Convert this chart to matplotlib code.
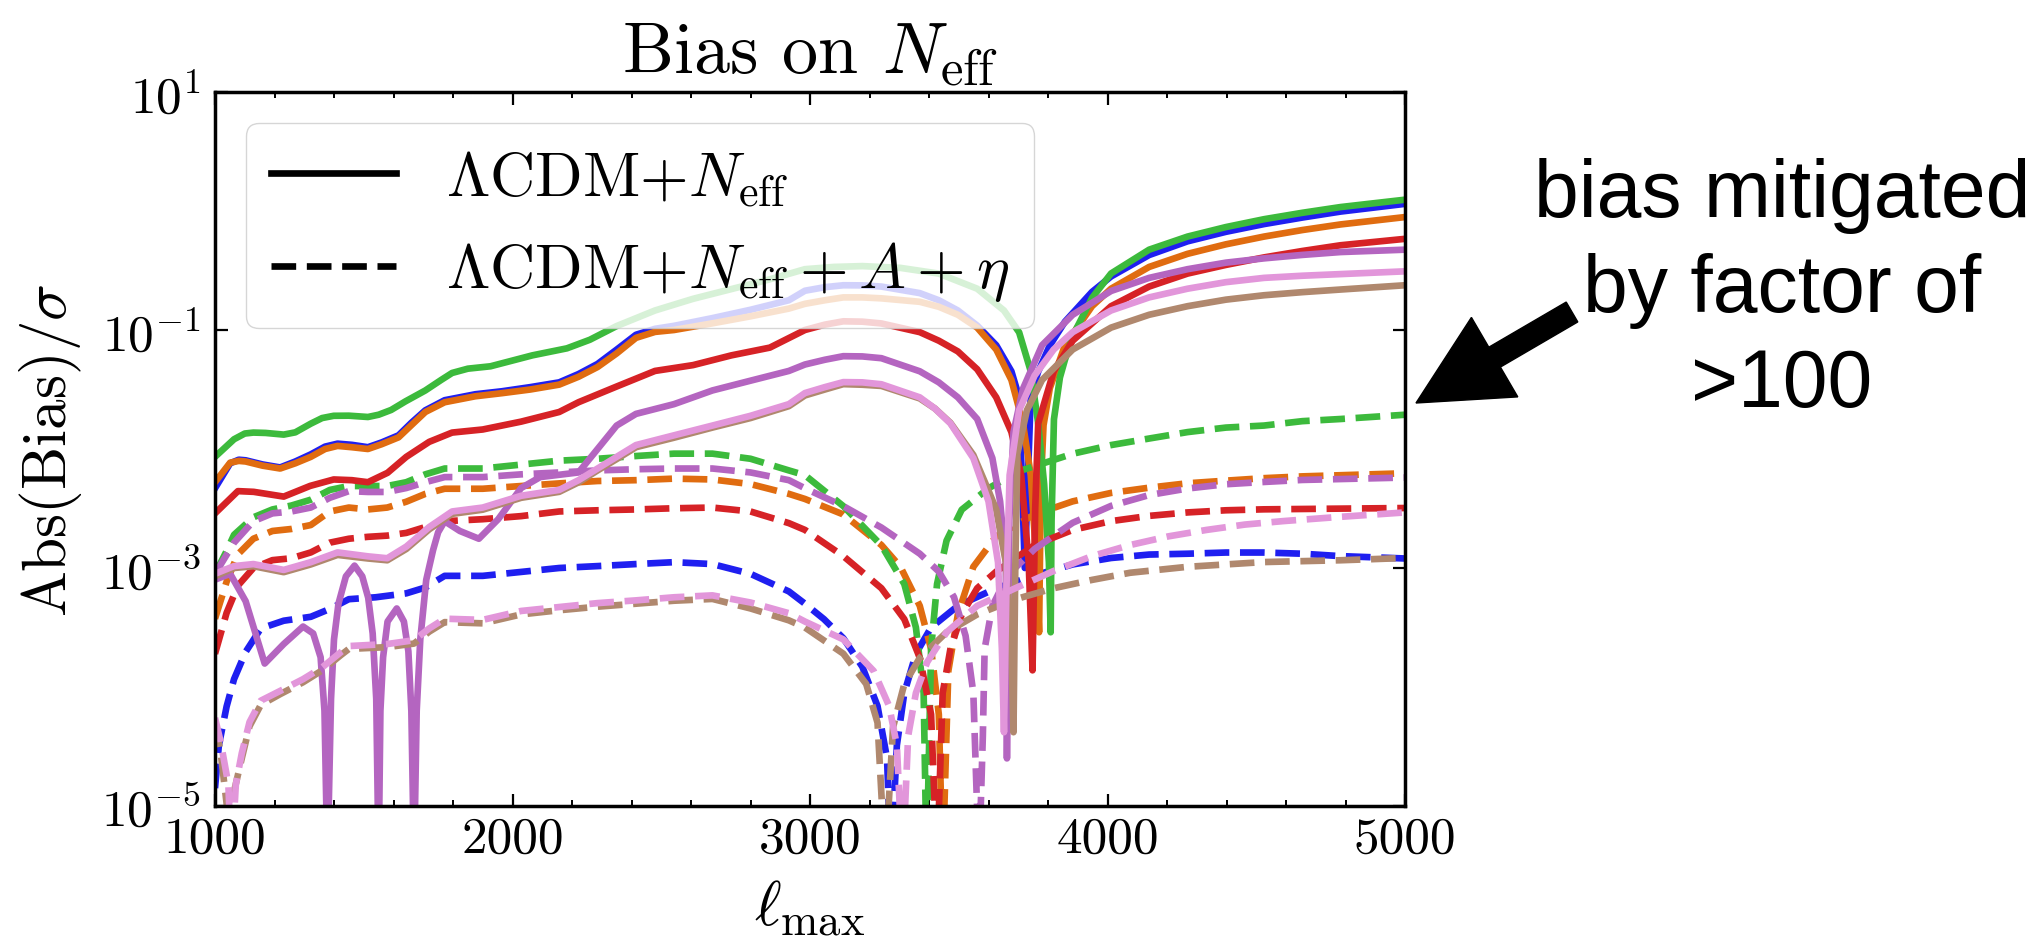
import matplotlib
matplotlib.use('Agg')
import matplotlib.pyplot as plt
from matplotlib.lines import Line2D
from matplotlib.patches import FancyArrow
from matplotlib.ticker import MultipleLocator, NullLocator
import numpy as np

plt.rcParams['font.family'] = 'serif'
plt.rcParams['font.serif'] = ['cmr10']
plt.rcParams['mathtext.fontset'] = 'cm'
plt.rcParams['axes.unicode_minus'] = False

# values, stored as log10(|bias|/sigma) against ell_max
# solid lines: LCDM+Neff
ell_blue_s = [1000, 1051, 1080, 1103, 1160, 1219, 1270, 1322, 1370, 1412, 1460, 1514, 1560, 1617, 1660, 1707, 1772,
              1875, 1964, 2060, 2157, 2222, 2286, 2350, 2415, 2479, 2543, 2672, 2800, 2929, 2983, 3050, 3112, 3176,
              3240, 3369, 3433, 3497, 3562, 3626, 3677, 3703, 3722, 3742, 3767, 3806, 3857, 3948, 4012, 4140, 4269,
              4398, 4526, 4655, 4783, 5000]
lg_blue_s = [-2.33, -2.12, -2.09, -2.095, -2.13, -2.155, -2.105, -2.045, -1.98, -1.955, -1.965, -1.985, -1.945,
             -1.885, -1.78, -1.675, -1.59, -1.54, -1.515, -1.48, -1.44, -1.37, -1.285, -1.165, -1.04, -0.99, -0.965,
             -0.9, -0.83, -0.75, -0.67, -0.64, -0.624, -0.625, -0.635, -0.69, -0.75, -0.836, -0.963, -1.128, -1.347,
             -1.566, -3.0, -1.55, -1.35, -1.13, -0.93, -0.68, -0.55, -0.37, -0.255, -0.175, -0.11, -0.055, -0.005,
             0.06]

ell_orange_s = [1000, 1051, 1080, 1103, 1160, 1219, 1270, 1322, 1370, 1412, 1460, 1514, 1560, 1617, 1660, 1707, 1772,
                1875, 1964, 2060, 2157, 2222, 2286, 2350, 2415, 2479, 2543, 2672, 2800, 2929, 2983, 3050, 3112, 3176,
                3240, 3369, 3433, 3497, 3562, 3626, 3677, 3716, 3742, 3761, 3770, 3776, 3785, 3806, 3857, 3948, 4012,
                4140, 4269, 4398, 4526, 4655, 4783, 5000]
lg_orange_s = [-2.279, -2.115, -2.1, -2.105, -2.14, -2.164, -2.12, -2.066, -2.0, -1.974, -1.985, -2.0, -1.96,
               -1.902, -1.8, -1.689, -1.607, -1.557, -1.531, -1.5, -1.459, -1.393, -1.311, -1.197, -1.066, -1.016,
               -1.0, -0.944, -0.885, -0.82, -0.78, -0.75, -0.726, -0.726, -0.734, -0.763, -0.805, -0.872, -0.98,
               -1.164, -1.42, -1.785, -2.22, -2.95, -3.54, -2.3, -1.8, -1.49, -1.128, -0.8, -0.653, -0.47, -0.36,
               -0.28, -0.215, -0.16, -0.113, -0.051]

ell_green_s = [1000, 1064, 1100, 1129, 1170, 1231, 1270, 1322, 1360, 1399, 1450, 1514, 1550, 1592, 1640, 1707, 1760,
               1797, 1850, 1926, 2067, 2183, 2260, 2350, 2479, 2607, 2736, 2865, 2983, 3080, 3176, 3304, 3433, 3562,
               3652, 3703, 3742, 3767, 3787, 3803, 3809, 3812, 3820, 3840, 3857, 3883, 3948, 4012, 4140, 4269, 4398,
               4526, 4655, 4783, 5000]
lg_green_s = [-2.066, -1.918, -1.87, -1.862, -1.865, -1.879, -1.86, -1.787, -1.74, -1.721, -1.72, -1.731, -1.712,
              -1.672, -1.6, -1.508, -1.42, -1.361, -1.325, -1.305, -1.213, -1.154, -1.082, -0.967, -0.836, -0.738,
              -0.656, -0.574, -0.489, -0.47, -0.463, -0.478, -0.526, -0.653, -0.836, -1.02, -1.347, -1.785, -2.296,
              -2.953, -3.54, -2.6, -1.75, -1.4, -1.25, -1.05, -0.73, -0.525, -0.325, -0.215, -0.135, -0.069, -0.015,
              0.033, 0.095]

ell_red_s = [1000, 1077, 1130, 1231, 1320, 1399, 1460, 1514, 1580, 1643, 1720, 1797, 1900, 2029, 2157, 2222, 2350,
             2479, 2607, 2736, 2865, 2983, 3050, 3112, 3176, 3240, 3369, 3433, 3497, 3562, 3626, 3677, 3710, 3735,
             3748, 3757, 3767, 3819, 3883, 4012, 4140, 4269, 4398, 4526, 4655, 4783, 5000]
lg_red_s = [-2.541, -2.354, -2.36, -2.4, -2.31, -2.256, -2.262, -2.279, -2.2, -2.066, -1.94, -1.862, -1.836, -1.77,
            -1.689, -1.607, -1.475, -1.344, -1.295, -1.213, -1.148, -1.0, -0.955, -0.927, -0.93, -0.945, -1.018,
            -1.09, -1.18, -1.33, -1.566, -1.858, -2.22, -2.95, -3.86, -2.5, -1.785, -1.347, -1.09, -0.8, -0.635,
            -0.526, -0.453, -0.39, -0.336, -0.288, -0.234]

ell_purple_s = [1000, 1051, 1103, 1167, 1231, 1296, 1330, 1355, 1368, 1378, 1390, 1400, 1415, 1440, 1469, 1495, 1515,
                1530, 1542, 1550, 1556, 1565, 1580, 1611, 1635, 1650, 1660, 1669, 1678, 1690, 1710, 1733, 1750, 1772,
                1823, 1887, 1952, 2029, 2093, 2222, 2286, 2350, 2415, 2543, 2672, 2800, 2929, 2983, 3050, 3112, 3176,
                3240, 3369, 3433, 3497, 3562, 3613, 3639, 3658, 3662, 3670, 3684, 3716, 3780, 3883, 4012, 4140,
                4269, 4398, 4526, 4655, 4783, 5000]
lg_purple_s = [-3.098, -3.049, -3.279, -3.803, -3.639, -3.492, -3.55, -3.75, -4.2, -5.5, -4.1, -3.6, -3.3, -3.07,
               -2.98, -3.07, -3.25, -3.55, -4.1, -5.5, -4.2, -3.75, -3.45, -3.34, -3.45, -3.7, -4.2, -5.5, -4.2, -3.6,
               -3.1, -2.85, -2.7, -2.607, -2.689, -2.754, -2.59, -2.328, -2.236, -2.197, -2.0, -1.803, -1.705,
               -1.623, -1.508, -1.426, -1.344, -1.29, -1.25, -1.22, -1.222, -1.237, -1.347, -1.44, -1.566, -1.748,
               -2.077, -2.44, -2.95, -4.6, -2.6, -1.858, -1.493, -1.128, -0.872, -0.672, -0.562, -0.489, -0.434,
               -0.398, -0.369, -0.345, -0.325]

ell_brown_s = [1000, 1064, 1129, 1231, 1322, 1412, 1514, 1579, 1643, 1720, 1797, 1900, 2029, 2157, 2222, 2286, 2350,
               2415, 2543, 2672, 2800, 2929, 2983, 3050, 3112, 3176, 3240, 3369, 3420, 3472, 3549, 3600, 3626, 3658,
               3677, 3684, 3690, 3697, 3729, 3780, 3883, 4012, 4140, 4269, 4398, 4526, 4655, 4783, 5000]
lg_brown_s = [-3.07, -3.0, -2.985, -3.035, -2.97, -2.89, -2.92, -2.935, -2.84, -2.675, -2.545, -2.51, -2.41, -2.36,
              -2.28, -2.18, -2.085, -1.985, -1.905, -1.82, -1.74, -1.64, -1.55, -1.5, -1.455, -1.46, -1.47, -1.575,
              -1.66, -1.78, -2.05, -2.35, -2.51, -2.95, -3.68, -4.38, -3.0, -2.04, -1.675, -1.42, -1.164, -0.98,
              -0.872, -0.8, -0.745, -0.708, -0.682, -0.66, -0.624]

ell_pink_s = [1000, 1064, 1129, 1231, 1322, 1412, 1514, 1579, 1643, 1720, 1797, 1900, 2029, 2157, 2222, 2286, 2350,
              2415, 2543, 2672, 2800, 2929, 2983, 3050, 3112, 3176, 3240, 3369, 3420, 3472, 3549, 3600, 3632, 3645,
              3652, 3660, 3671, 3703, 3755, 3819, 3883, 4012, 4140, 4269, 4398, 4526, 4655, 5000]
lg_pink_s = [-3.049, -2.984, -2.967, -3.016, -2.951, -2.869, -2.902, -2.918, -2.82, -2.656, -2.525, -2.492, -2.393,
             -2.344, -2.262, -2.164, -2.066, -1.967, -1.885, -1.803, -1.721, -1.623, -1.53, -1.48, -1.438, -1.44,
             -1.456, -1.566, -1.66, -1.785, -2.077, -2.44, -2.953, -3.68, -4.38, -3.2, -2.22, -1.675, -1.383, -1.164,
             -1.018, -0.836, -0.726, -0.653, -0.598, -0.562, -0.544, -0.507]

# dashed lines: LCDM+Neff+A+eta
ell_blue_d = [1000, 1013, 1039, 1064, 1103, 1154, 1231, 1322, 1386, 1450, 1540, 1643, 1707, 1772, 1900, 2029, 2157,
              2286, 2415, 2543, 2672, 2800, 2929, 2983, 3047, 3112, 3176, 3227, 3259, 3272, 3292, 3317, 3356, 3407,
              3497, 3626, 3755, 3883, 4012, 4140, 4269, 4398, 4526, 4655, 4783, 5000]
lg_blue_d = [-4.85, -4.49, -4.164, -3.934, -3.705, -3.508, -3.443, -3.41, -3.344, -3.262, -3.246, -3.213, -3.164,
             -3.066, -3.066, -3.033, -3.0, -2.984, -2.967, -2.951, -2.967, -3.049, -3.197, -3.3, -3.43, -3.59, -3.83,
             -4.16, -4.6, -5.5, -4.49, -4.05, -3.72, -3.5, -3.318, -3.17, -3.062, -2.97, -2.916, -2.887, -2.88,
             -2.87, -2.87, -2.88, -2.9, -2.92]

ell_orange_d = [1000, 1039, 1077, 1129, 1193, 1257, 1322, 1386, 1450, 1514, 1579, 1643, 1707, 1772, 1900, 2029, 2157,
                2286, 2415, 2543, 2672, 2800, 2929, 2983, 3112, 3240, 3304, 3369, 3407, 3433, 3446, 3465, 3497, 3549,
                3626, 3755, 3883, 4012, 4140, 4269, 4398, 4526, 4655, 5000]
lg_orange_d = [-3.426, -3.115, -2.885, -2.754, -2.689, -2.672, -2.639, -2.525, -2.492, -2.508, -2.492, -2.443, -2.377,
               -2.334, -2.334, -2.311, -2.289, -2.269, -2.262, -2.249, -2.256, -2.295, -2.377, -2.42, -2.55, -2.807,
               -2.99, -3.318, -3.68, -4.23, -5.5, -3.865, -3.39, -2.99, -2.734, -2.55, -2.44, -2.369, -2.325, -2.288,
               -2.266, -2.245, -2.23, -2.204]

ell_green_d = [1000, 1040, 1064, 1129, 1193, 1257, 1322, 1386, 1450, 1514, 1579, 1643, 1707, 1772, 1900, 2029, 2157,
               2286, 2415, 2543, 2672, 2800, 2929, 2983, 3112, 3240, 3317, 3356, 3382, 3392, 3407, 3427, 3459, 3510,
               3600, 3703, 3883, 4012, 4140, 4269, 4398, 4526, 4655, 4783, 5000]
lg_green_d = [-3.05, -2.852, -2.721, -2.574, -2.508, -2.475, -2.426, -2.344, -2.311, -2.311, -2.311, -2.279, -2.213,
              -2.164, -2.164, -2.131, -2.098, -2.082, -2.059, -2.039, -2.039, -2.082, -2.18, -2.22, -2.48, -2.81,
              -3.135, -3.5, -4.05, -5.5, -3.68, -3.135, -2.77, -2.51, -2.33, -2.186, -2.04, -1.967, -1.912, -1.858,
              -1.82, -1.803, -1.766, -1.748, -1.712]

ell_red_d = [1000, 1039, 1077, 1129, 1193, 1257, 1322, 1386, 1450, 1514, 1579, 1643, 1707, 1772, 1900, 2029, 2157,
             2286, 2415, 2543, 2672, 2800, 2929, 2983, 3112, 3240, 3317, 3369, 3407, 3427, 3446, 3472, 3510, 3562,
             3626, 3755, 3883, 4012, 4140, 4269, 4398, 4526, 5000]
lg_red_d = [-3.721, -3.377, -3.148, -3.0, -2.934, -2.918, -2.869, -2.787, -2.754, -2.738, -2.728, -2.705, -2.656,
            -2.607, -2.59, -2.564, -2.525, -2.515, -2.508, -2.498, -2.492, -2.525, -2.623, -2.68, -2.9, -3.17, -3.43,
            -3.755, -4.23, -5.5, -4.05, -3.68, -3.39, -3.17, -3.03, -2.807, -2.68, -2.606, -2.562, -2.533, -2.515,
            -2.507, -2.496]

ell_purple_d = [1000, 1064, 1129, 1193, 1257, 1322, 1386, 1450, 1514, 1579, 1643, 1707, 1772, 1900, 2029, 2157, 2286,
                2415, 2543, 2672, 2800, 2929, 2983, 3112, 3240, 3369, 3433, 3484, 3523, 3549, 3568, 3581, 3587, 3613,
                3665, 3755, 3883, 4012, 4140, 4269, 4398, 4526, 4655, 5000]
lg_purple_d = [-3.05, -2.787, -2.607, -2.541, -2.525, -2.492, -2.41, -2.354, -2.361, -2.361, -2.328, -2.279, -2.236,
               -2.236, -2.213, -2.197, -2.18, -2.17, -2.164, -2.164, -2.197, -2.262, -2.33, -2.48, -2.66, -2.88,
               -3.03, -3.245, -3.57, -4.05, -5.5, -4.41, -3.68, -3.318, -3.06, -2.84, -2.62, -2.478, -2.387, -2.332,
               -2.296, -2.277, -2.26, -2.24]

ell_brown_d = [1000, 1019, 1040, 1050, 1062, 1090, 1116, 1154, 1219, 1296, 1360, 1424, 1450, 1579, 1669, 1720, 1772,
               1900, 2029, 2157, 2286, 2415, 2543, 2672, 2800, 2929, 2983, 3112, 3189, 3227, 3253, 3279, 3317, 3369,
               3459, 3562, 3690, 3819, 3948, 4076, 4269, 4526, 4783, 5000]
lg_brown_d = [-4.3, -4.55, -5.0, -5.5, -4.9, -4.6, -4.33, -4.15, -4.06, -3.96, -3.86, -3.73, -3.68, -3.665, -3.635,
              -3.535, -3.455, -3.465, -3.39, -3.355, -3.325, -3.3, -3.275, -3.26, -3.34, -3.44, -3.5, -3.72, -3.975,
              -4.3, -5.5, -4.34, -3.975, -3.755, -3.54, -3.39, -3.263, -3.17, -3.1, -3.04, -2.99, -2.95, -2.935,
              -2.916]

ell_pink_d = [1000, 1019, 1045, 1055, 1070, 1090, 1116, 1154, 1219, 1296, 1360, 1424, 1450, 1579, 1669, 1720, 1772,
              1900, 2029, 2157, 2286, 2415, 2543, 2672, 2800, 2929, 2983, 3112, 3214, 3266, 3292, 3311, 3330, 3356,
              3394, 3459, 3562, 3690, 3819, 3948, 4076, 4205, 4333, 4462, 4590, 4783, 5000]
lg_pink_d = [-4.26, -4.46, -4.82, -5.5, -4.82, -4.557, -4.295, -4.115, -4.033, -3.934, -3.836, -3.705, -3.656,
             -3.639, -3.607, -3.508, -3.426, -3.436, -3.361, -3.328, -3.295, -3.272, -3.246, -3.23, -3.29, -3.38,
             -3.45, -3.6, -3.865, -4.16, -4.49, -5.5, -4.41, -4.05, -3.79, -3.54, -3.318, -3.17, -3.025, -2.9,
             -2.807, -2.734, -2.68, -2.635, -2.606, -2.57, -2.533]

colors = ['#1f1ff0', '#e06c10', '#3cba3c', '#d62226', '#b465c0', '#b0886e', '#e296da']
solid = [(ell_blue_s, lg_blue_s), (ell_orange_s, lg_orange_s), (ell_green_s, lg_green_s), (ell_red_s, lg_red_s),
         (ell_purple_s, lg_purple_s), (ell_brown_s, lg_brown_s), (ell_pink_s, lg_pink_s)]
dashed = [(ell_blue_d, lg_blue_d), (ell_orange_d, lg_orange_d), (ell_green_d, lg_green_d), (ell_red_d, lg_red_d),
          (ell_purple_d, lg_purple_d), (ell_brown_d, lg_brown_d), (ell_pink_d, lg_pink_d)]

W, H = 2036, 937
fig = plt.figure(figsize=(W / 100, H / 100), dpi=100)
ax = fig.add_axes([215 / W, 1 - 807 / H, 1190 / W, 714 / H])

lw = 4.8
for c, (xs, ys), (xd, yd) in zip(colors, solid, dashed):
    ax.plot(xs, 10 ** np.array(ys), color=c, lw=lw, solid_joinstyle='round')
    ax.plot(xd, 10 ** np.array(yd), color=c, lw=lw, ls='--')

ax.set_yscale('log')
ax.set_xlim(1000, 5000)
ax.set_ylim(1e-5, 1e1)
ax.set_yticks([1e-5, 1e-3, 1e-1, 1e1])
ax.yaxis.set_minor_locator(NullLocator())
ax.xaxis.set_major_locator(MultipleLocator(1000))
ax.xaxis.set_minor_locator(MultipleLocator(200))
ax.tick_params(which='both', direction='in', top=True, right=True, labelsize=37)
ax.tick_params(which='major', length=9, width=1.6)
ax.tick_params(which='minor', length=4.5, width=1.4)
ax.tick_params(axis='x', pad=7)
ax.tick_params(axis='y', pad=10)
for s in ax.spines.values():
    s.set_linewidth(2.5)

ax.set_title(r'Bias on $N_{\rm eff}$', fontsize=52, pad=14)
ax.set_xlabel(r'$\ell_{\rm max}$', fontsize=46)
ax.xaxis.set_label_coords(0.5, -0.1)
ax.set_ylabel(r'$\rm Abs(Bias)/\sigma$', fontsize=44)
ax.yaxis.set_label_coords(-0.11, 0.5)

handles = [Line2D([], [], color='k', lw=lw), Line2D([], [], color='k', lw=lw, ls='--')]
labels = [r'$\Lambda$CDM+$N_{\rm eff}$', r'$\Lambda$CDM+$N_{\rm eff}+A+\eta$']
ax.legend(handles, labels, loc='upper left', fontsize=45)

# annotation on the right
note_lines = ['bias mitigated', 'by factor of', '>100']
for txt, base in zip(note_lines, [217, 312, 407]):
    fig.text(1782 / W, 1 - base / H, txt, ha='center', va='baseline', fontsize=58,
             family='Liberation Sans')
arrow = FancyArrow(15.72, (H - 313) / 100, -1.56, -0.91, width=0.23, head_width=0.92, head_length=0.91,
                   length_includes_head=True, color='k', transform=fig.dpi_scale_trans)
fig.patches.append(arrow)

fig.savefig('out.png', dpi=100)
